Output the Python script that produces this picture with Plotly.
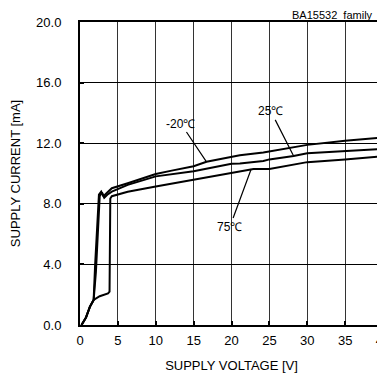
import plotly.graph_objects as go

# supply voltage [V] / supply current [mA]
v_m20 = [0.2, 0.8, 1.3, 1.8, 2.0, 2.2, 2.5, 2.8, 3.1, 3.5, 4.2, 6.3, 8.5,
         10, 12.1, 15, 16.7, 20, 21.1, 24.2, 28.2, 30, 35, 40]
i_m20 = [0.0, 0.5, 1.2, 1.65, 4.0, 6.3, 8.6, 8.8, 8.5, 8.7, 9.03, 9.36, 9.7,
         9.97, 10.19, 10.48, 10.77, 11.09, 11.2, 11.38, 11.71, 11.89, 12.16,
         12.37]

v_25 = [0.2, 0.8, 1.3, 1.8, 2.1, 2.4, 2.6, 2.9, 3.2, 3.6, 4.2, 6.3, 10, 15,
        20, 21.1, 24.2, 25, 28.2, 30, 35, 40]
i_25 = [0.0, 0.5, 1.2, 1.65, 3.5, 6.5, 8.5, 8.75, 8.4, 8.6, 8.8, 9.25, 9.81,
        10.15, 10.64, 10.66, 10.82, 10.93, 11.15, 11.34, 11.49, 11.63]

v_75 = [0.2, 0.8, 1.3, 1.8, 2.6, 3.7, 3.9, 4.0, 4.2, 6.3, 10, 15, 20, 21.1,
        22.9, 25, 28.2, 30, 35, 40]
i_75 = [0.0, 0.5, 1.2, 1.65, 1.9, 2.09, 2.2, 8.35, 8.5, 8.8, 9.14, 9.59,
        10.03, 10.15, 10.3, 10.3, 10.6, 10.75, 10.93, 11.13]

# curve labels: text, text position, point the leader goes to
labels = ["-20℃", "25℃", "75℃"]
label_pos = [(13.3, 13.3), (25.2, 14.1), (19.8, 6.5)]
label_tip = [(16.7, 10.77), (28.2, 11.15), (22.6, 10.3)]

font = "Liberation Sans, Arial, sans-serif"

fig = go.Figure()

for v, i in [(v_m20, i_m20), (v_25, i_25), (v_75, i_75)]:
    fig.add_trace(go.Scatter(x=v, y=i, mode="lines",
                             line=dict(color="black", width=2),
                             showlegend=False))

for text, (tx, ty), (px, py) in zip(labels, label_pos, label_tip):
    fig.add_annotation(x=px, y=py, ax=tx, ay=ty,
                       axref="x", ayref="y", xref="x", yref="y",
                       text=text, showarrow=True, arrowhead=0,
                       arrowwidth=1.2, arrowcolor="black", standoff=0,
                       font=dict(family=font, size=12, color="black"))

fig.add_annotation(x=0.695, y=1.0, xref="paper", yref="paper",
                   xanchor="left", yanchor="bottom", showarrow=False,
                   text="BA15532  family", borderpad=0,
                   font=dict(family=font, size=11, color="black"))

# page body has an 8px margin, so the plot area is placed 8px up/left
fig.update_layout(width=385, height=383,
                  margin=dict(l=72, r=10, t=14, b=66),
                  paper_bgcolor="white", plot_bgcolor="white",
                  font=dict(family=font, size=13, color="black"))

fig.update_xaxes(range=[0, 40], dtick=5, tick0=0, automargin=False,
                 showgrid=True, gridcolor="#333333", gridwidth=1,
                 zeroline=False,
                 showline=True, linecolor="black", linewidth=2, mirror=True,
                 ticks="inside", ticklen=4, tickwidth=2, tickcolor="black",
                 ticklabelstandoff=2, ticklabeloverflow="allow",
                 title=dict(text="SUPPLY VOLTAGE [V]", standoff=14,
                            font=dict(size=13)))

fig.update_yaxes(range=[0, 20], dtick=4, tick0=0, tickformat=".1f",
                 automargin=False,
                 showgrid=True, gridcolor="black", gridwidth=1,
                 zeroline=False,
                 showline=True, linecolor="black", linewidth=2, mirror=True,
                 ticks="inside", ticklen=4, tickwidth=2, tickcolor="black",
                 ticklabelstandoff=14,
                 title=dict(text="SUPPLY CURRENT [mA]", standoff=13,
                            font=dict(size=13)))

fig.write_html("out.html")
